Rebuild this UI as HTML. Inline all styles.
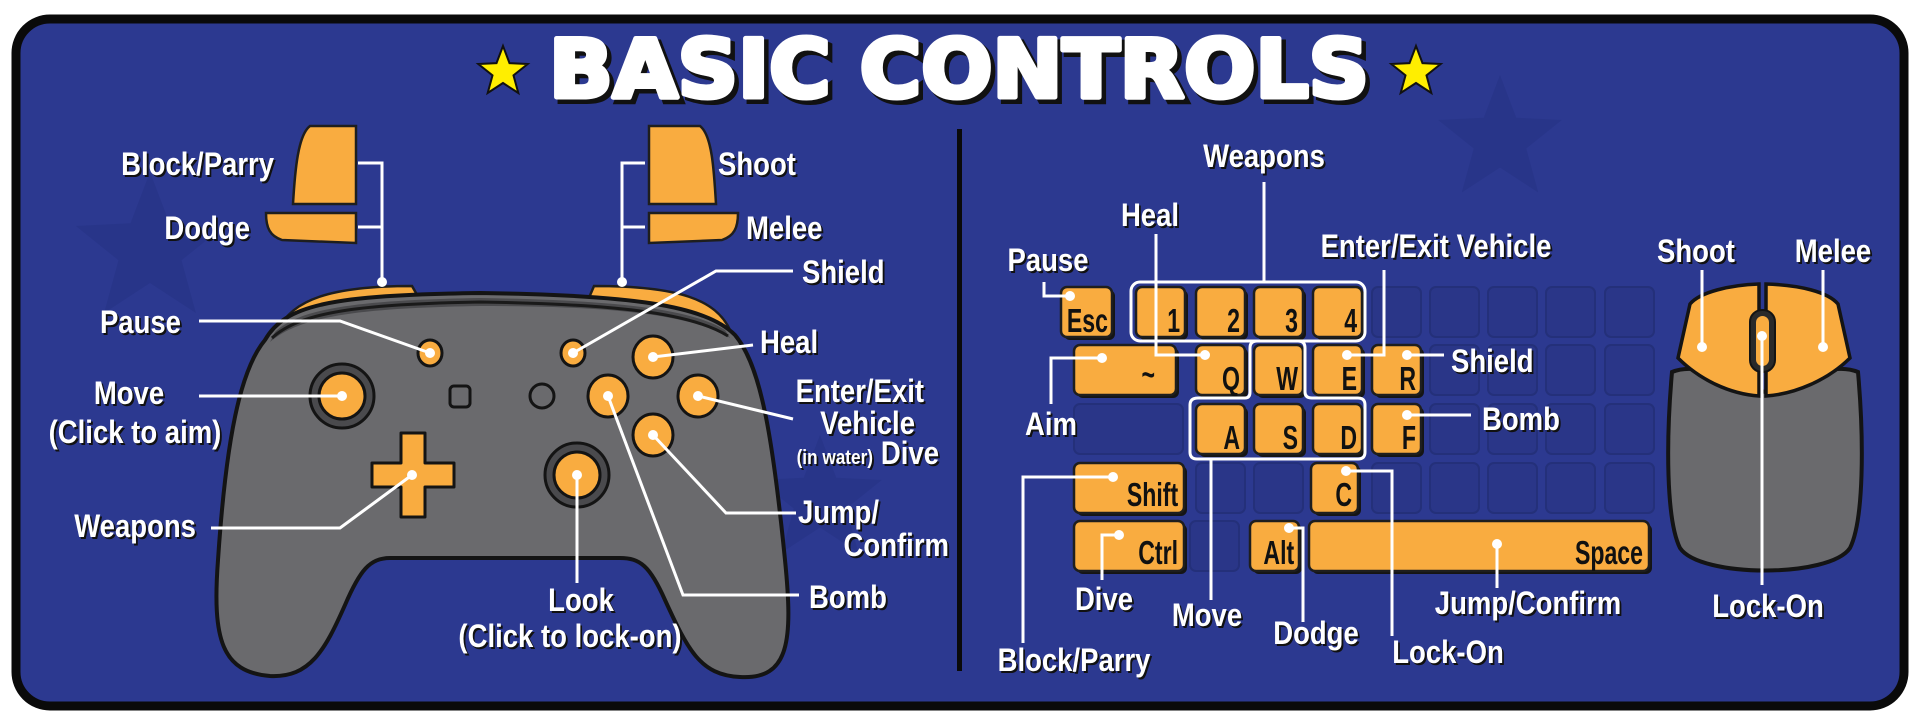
<!DOCTYPE html>
<html><head><meta charset="utf-8"><style>
html,body{margin:0;padding:0;background:#fff;}
svg{display:block;}
.l text{font-family:"Liberation Sans Narrow","Liberation Sans",sans-serif;font-weight:bold;font-size:32px;fill:#fff;text-shadow:2px 2px 0 #111;transform-box:fill-box;transform:scaleX(0.86);transform-origin:left center;}
.l text[text-anchor="end"]{transform-origin:right center;}
.l text[text-anchor="middle"]{transform-origin:center center;}
.l text.s{font-size:20px;}
.k text{font-family:"Liberation Sans Narrow","Liberation Sans",sans-serif;font-weight:bold;font-size:33px;fill:#111;text-anchor:end;transform-box:fill-box;transform:scaleX(0.7);transform-origin:right center;}
.ln{stroke:#fff;stroke-width:3;fill:none;}
.d{fill:#fff;}
.ok{fill:#f9ac40;stroke:#1e1e1e;stroke-width:2.5;}
.sh{fill:#151515;}
.ek{fill:#2a3688;stroke:#24307a;stroke-width:2;}
</style></head><body>
<svg width="1920" height="720" viewBox="0 0 1920 720" xmlns="http://www.w3.org/2000/svg">
<rect x="0" y="0" width="1920" height="720" fill="#fff"/>
<rect x="16" y="19" width="1888" height="687" rx="34" fill="#2c3990" stroke="#0a0a0a" stroke-width="9"/>
<g fill="#283588" opacity="0.8">
<path transform="translate(150,250) scale(3)" d="M0,-26 L6.5,-8.9 L24.7,-8 L10.5,3.4 L15.3,21 L0,11 L-15.3,21 L-10.5,3.4 L-24.7,-8 L-6.5,-8.9Z"/>
<path transform="translate(820,500) scale(2.5)" d="M0,-26 L6.5,-8.9 L24.7,-8 L10.5,3.4 L15.3,21 L0,11 L-15.3,21 L-10.5,3.4 L-24.7,-8 L-6.5,-8.9Z"/>
<path transform="translate(1500,140) scale(2.5)" d="M0,-26 L6.5,-8.9 L24.7,-8 L10.5,3.4 L15.3,21 L0,11 L-15.3,21 L-10.5,3.4 L-24.7,-8 L-6.5,-8.9Z"/>
</g>
<g fill="#ffee00" stroke="#111" stroke-width="2">
<path transform="translate(503,72)" d="M0,-26 L6.5,-8.9 L24.7,-8 L10.5,3.4 L15.3,21 L0,11 L-15.3,21 L-10.5,3.4 L-24.7,-8 L-6.5,-8.9Z"/>
<path transform="translate(1416,72)" d="M0,-26 L6.5,-8.9 L24.7,-8 L10.5,3.4 L15.3,21 L0,11 L-15.3,21 L-10.5,3.4 L-24.7,-8 L-6.5,-8.9Z"/>
</g>
<text x="553" y="101" textLength="820" lengthAdjust="spacingAndGlyphs" font-family="'DejaVu Sans','Liberation Sans',sans-serif" font-weight="bold" font-size="80" fill="#111" stroke="#111" stroke-width="6">BASIC CONTROLS</text>
<text x="549" y="97" textLength="820" lengthAdjust="spacingAndGlyphs" font-family="'DejaVu Sans','Liberation Sans',sans-serif" font-weight="bold" font-size="80" fill="#fff" stroke="#fff" stroke-width="5" stroke-linejoin="round">BASIC CONTROLS</text>
<rect x="957" y="129" width="5" height="542" fill="#0a0a0a"/>

<!-- CONTROLLER -->
<path d="M278,330 C292,300 330,286 412,286 L420,300 L286,336 Z" fill="#f9ac40" stroke="#1e1e1e" stroke-width="2.5"/>
<path d="M594,286 C680,286 716,300 730,330 L720,336 L588,300 Z" fill="#f9ac40" stroke="#1e1e1e" stroke-width="2.5"/>
<path d="M265,340 C285,305 330,295 480,293 C630,295 705,305 735,335 C760,365 772,430 785,560 C793,640 790,680 740,677 C700,675 688,650 665,600 C650,566 640,558 620,558 L390,558 C370,558 360,570 345,605 C325,650 310,678 270,676 C222,672 212,640 218,560 C226,440 240,370 265,340 Z" fill="#6a6a6d" stroke="#141414" stroke-width="4"/>
<path d="M275,332 C300,308 360,300 480,298 C610,300 690,308 725,330 L730,338 C690,314 610,306 480,306 C360,308 300,316 270,342 Z" fill="#4a4a4d"/>
<path d="M272,338 C300,312 360,304 480,302 C610,304 690,312 728,336" fill="none" stroke="#1a1a1a" stroke-width="3"/>
<path d="M310,126 L356,126 L356,204 L293,204 C295,170 298,135 310,126 Z" fill="#f9ac40" stroke="#1e1e1e" stroke-width="2.5"/>
<path d="M266,213 L356,213 L356,243 L282,240 C270,236 266,228 266,213 Z" fill="#f9ac40" stroke="#1e1e1e" stroke-width="2.5"/>
<path d="M649,126 L700,126 C712,135 714,170 716,204 L649,204 Z" fill="#f9ac40" stroke="#1e1e1e" stroke-width="2.5"/>
<path d="M649,213 L738,213 C738,228 734,236 722,240 L649,243 Z" fill="#f9ac40" stroke="#1e1e1e" stroke-width="2.5"/>
<circle cx="342" cy="396" r="32" fill="#4a4a4d" stroke="#141414" stroke-width="3"/>
<circle cx="342" cy="396" r="23" fill="#f9ac40" stroke="#141414" stroke-width="3"/>
<circle cx="577" cy="475" r="32" fill="#4a4a4d" stroke="#141414" stroke-width="3"/>
<circle cx="577" cy="475" r="23" fill="#f9ac40" stroke="#141414" stroke-width="3"/>
<path d="M401,433 L425,433 L425,463 L454,463 L454,487 L425,487 L425,517 L401,517 L401,487 L372,487 L372,463 L401,463 Z" fill="#f9ac40" stroke="#141414" stroke-width="3" stroke-linejoin="round"/>
<rect x="450" y="386" width="20" height="21" rx="4" fill="none" stroke="#141414" stroke-width="3"/>
<circle cx="542" cy="396" r="12" fill="none" stroke="#141414" stroke-width="3"/>
<ellipse cx="430" cy="353" rx="12" ry="13" fill="#f9ac40" stroke="#141414" stroke-width="3"/>
<ellipse cx="573" cy="353" rx="12" ry="13" fill="#f9ac40" stroke="#141414" stroke-width="3"/>
<ellipse cx="653" cy="357" rx="20" ry="21" fill="#f9ac40" stroke="#141414" stroke-width="3"/>
<ellipse cx="608" cy="396" rx="20" ry="21" fill="#f9ac40" stroke="#141414" stroke-width="3"/>
<ellipse cx="698" cy="396" rx="20" ry="21" fill="#f9ac40" stroke="#141414" stroke-width="3"/>
<ellipse cx="653" cy="435" rx="20" ry="21" fill="#f9ac40" stroke="#141414" stroke-width="3"/>
<g class="ln">
<polyline points="358,163 382,163 382,282"/><polyline points="358,227 382,227"/>
<polyline points="645,163 622,163 622,282"/><polyline points="645,227 622,227"/>
<polyline points="199,321 340,321 430,353"/>
<polyline points="199,396 342,396"/>
<polyline points="211,528 340,528 412,475"/>
<polyline points="793,271 716,271 573,353"/>
<polyline points="753,345 653,357"/>
<polyline points="793,419 698,396"/>
<polyline points="796,513 726,513 653,435"/>
<polyline points="799,595 683,595 608,396"/>
<polyline points="577,475 577,583"/>
</g>
<g class="d">
<circle cx="382" cy="282" r="5"/><circle cx="622" cy="282" r="5"/>
<circle cx="430" cy="353" r="5"/><circle cx="573" cy="353" r="5"/>
<circle cx="342" cy="396" r="5"/><circle cx="412" cy="475" r="5"/>
<circle cx="653" cy="357" r="5"/><circle cx="698" cy="396" r="5"/>
<circle cx="653" cy="435" r="5"/><circle cx="608" cy="396" r="5"/>
<circle cx="577" cy="475" r="5"/>
</g>
<g class="l">
<text x="274" y="175" text-anchor="end">Block/Parry</text>
<text x="250" y="239" text-anchor="end">Dodge</text>
<text x="718" y="175">Shoot</text>
<text x="746" y="239">Melee</text>
<text x="802" y="283">Shield</text>
<text x="181" y="333" text-anchor="end">Pause</text>
<text x="760" y="353">Heal</text>
<text x="129" y="404" text-anchor="middle">Move</text>
<text x="135" y="443" text-anchor="middle">(Click to aim)</text>
<text x="924" y="402" text-anchor="end">Enter/Exit</text>
<text x="915" y="434" text-anchor="end">Vehicle</text>
<text x="939" y="464" text-anchor="end">Dive</text>
<text x="873" y="464" text-anchor="end" class="s">(in water)</text>
<text x="196" y="537" text-anchor="end">Weapons</text>
<text x="798" y="523">Jump/</text>
<text x="949" y="556" text-anchor="end">Confirm</text>
<text x="581" y="611" text-anchor="middle">Look</text>
<text x="570" y="647" text-anchor="middle">(Click to lock-on)</text>
<text x="809" y="608">Bomb</text>
</g>

<!-- KEYBOARD -->
<g class="ek">
<rect x="1372" y="287" width="49" height="50" rx="6"/><rect x="1430" y="287" width="49" height="50" rx="6"/><rect x="1488" y="287" width="49" height="50" rx="6"/><rect x="1546" y="287" width="49" height="50" rx="6"/><rect x="1605" y="287" width="49" height="50" rx="6"/>
<rect x="1430" y="345" width="49" height="50" rx="6"/><rect x="1488" y="345" width="49" height="50" rx="6"/><rect x="1546" y="345" width="49" height="50" rx="6"/><rect x="1605" y="345" width="49" height="50" rx="6"/>
<rect x="1074" y="404" width="109" height="50" rx="6"/>
<rect x="1430" y="404" width="49" height="50" rx="6"/><rect x="1488" y="404" width="49" height="50" rx="6"/><rect x="1546" y="404" width="49" height="50" rx="6"/><rect x="1605" y="404" width="49" height="50" rx="6"/>
<rect x="1196" y="463" width="49" height="50" rx="6"/><rect x="1254" y="463" width="49" height="50" rx="6"/>
<rect x="1372" y="463" width="49" height="50" rx="6"/><rect x="1430" y="463" width="49" height="50" rx="6"/><rect x="1488" y="463" width="49" height="50" rx="6"/><rect x="1546" y="463" width="49" height="50" rx="6"/><rect x="1605" y="463" width="49" height="50" rx="6"/>
<rect x="1190" y="521" width="49" height="50" rx="6"/>
</g>
<g class="sh">
<rect x="1064" y="290" width="51" height="50" rx="6"/>
<rect x="1139" y="290" width="49" height="50" rx="6"/><rect x="1199" y="290" width="49" height="50" rx="6"/><rect x="1257" y="290" width="49" height="50" rx="6"/><rect x="1316" y="290" width="49" height="50" rx="6"/>
<rect x="1077" y="348" width="102" height="50" rx="6"/><rect x="1199" y="348" width="49" height="50" rx="6"/><rect x="1257" y="348" width="49" height="50" rx="6"/><rect x="1316" y="348" width="49" height="50" rx="6"/><rect x="1375" y="348" width="49" height="50" rx="6"/>
<rect x="1199" y="407" width="49" height="50" rx="6"/><rect x="1257" y="407" width="49" height="50" rx="6"/><rect x="1316" y="407" width="49" height="50" rx="6"/><rect x="1375" y="407" width="49" height="50" rx="6"/>
<rect x="1077" y="466" width="110" height="50" rx="6"/><rect x="1314" y="466" width="47" height="50" rx="6"/>
<rect x="1077" y="524" width="110" height="50" rx="6"/><rect x="1253" y="524" width="49" height="50" rx="6"/><rect x="1312" y="524" width="340" height="50" rx="6"/>
</g>
<g class="ok">
<rect x="1061" y="287" width="51" height="50" rx="6"/>
<rect x="1136" y="287" width="49" height="50" rx="6"/><rect x="1196" y="287" width="49" height="50" rx="6"/><rect x="1254" y="287" width="49" height="50" rx="6"/><rect x="1313" y="287" width="49" height="50" rx="6"/>
<rect x="1074" y="345" width="102" height="50" rx="6"/><rect x="1196" y="345" width="49" height="50" rx="6"/><rect x="1254" y="345" width="49" height="50" rx="6"/><rect x="1313" y="345" width="49" height="50" rx="6"/><rect x="1372" y="345" width="49" height="50" rx="6"/>
<rect x="1196" y="404" width="49" height="50" rx="6"/><rect x="1254" y="404" width="49" height="50" rx="6"/><rect x="1313" y="404" width="49" height="50" rx="6"/><rect x="1372" y="404" width="49" height="50" rx="6"/>
<rect x="1074" y="463" width="110" height="50" rx="6"/><rect x="1311" y="463" width="47" height="50" rx="6"/>
<rect x="1074" y="521" width="110" height="50" rx="6"/><rect x="1250" y="521" width="49" height="50" rx="6"/><rect x="1309" y="521" width="340" height="50" rx="6"/>
</g>
<g class="k">
<text x="1108" y="332">Esc</text>
<text x="1180" y="332">1</text><text x="1240" y="332">2</text><text x="1298" y="332">3</text><text x="1357" y="332">4</text>
<text x="1155" y="386">~</text><text x="1240" y="390">Q</text><text x="1298" y="390">W</text><text x="1357" y="390">E</text><text x="1416" y="390">R</text>
<text x="1240" y="449">A</text><text x="1298" y="449">S</text><text x="1357" y="449">D</text><text x="1416" y="449">F</text>
<text x="1178" y="506">Shift</text><text x="1352" y="506">C</text>
<text x="1178" y="564">Ctrl</text><text x="1294" y="564">Alt</text><text x="1643" y="564">Space</text>
</g>
<rect x="1131" y="282" width="234" height="59" rx="9" fill="none" stroke="#fff" stroke-width="3"/>
<path d="M1198,398 L1245,398 Q1250,398 1250,392 L1250,348 Q1250,341 1257,341 L1298,341 Q1305,341 1305,348 L1305,392 Q1305,398 1312,398 L1358,398 Q1365,398 1365,405 L1365,452 Q1365,459 1358,459 L1197,459 Q1190,459 1190,452 L1190,405 Q1190,398 1198,398 Z" fill="none" stroke="#fff" stroke-width="3"/>
<g class="ln">
<polyline points="1264,182 1264,282"/>
<polyline points="1156,234 1156,355 1205,355"/>
<polyline points="1044,282 1044,296 1070,296"/>
<polyline points="1384,270 1384,355 1347,355"/>
<polyline points="1407,355 1444,355"/>
<polyline points="1051,404 1051,358 1102,358"/>
<polyline points="1407,415 1471,415"/>
<polyline points="1102,580 1102,535 1119,535"/>
<polyline points="1211,459 1211,600"/>
<polyline points="1023,643 1023,477 1113,477"/>
<polyline points="1303,622 1303,528 1289,528"/>
<polyline points="1392,636 1392,471 1346,471"/>
<polyline points="1497,588 1497,544"/>
</g>
<g class="d">
<circle cx="1205" cy="355" r="5"/><circle cx="1070" cy="296" r="5"/><circle cx="1347" cy="355" r="5"/><circle cx="1407" cy="355" r="5"/>
<circle cx="1102" cy="358" r="5"/><circle cx="1407" cy="415" r="5"/><circle cx="1119" cy="535" r="5"/><circle cx="1113" cy="477" r="5"/>
<circle cx="1289" cy="528" r="5"/><circle cx="1346" cy="471" r="5"/><circle cx="1497" cy="544" r="5"/>
</g>
<g class="l">
<text x="1264" y="167" text-anchor="middle">Weapons</text>
<text x="1150" y="226" text-anchor="middle">Heal</text>
<text x="1048" y="271" text-anchor="middle">Pause</text>
<text x="1436" y="257" text-anchor="middle">Enter/Exit Vehicle</text>
<text x="1451" y="372">Shield</text>
<text x="1051" y="435" text-anchor="middle">Aim</text>
<text x="1482" y="430">Bomb</text>
<text x="1104" y="610" text-anchor="middle">Dive</text>
<text x="1207" y="626" text-anchor="middle">Move</text>
<text x="1074" y="671" text-anchor="middle">Block/Parry</text>
<text x="1316" y="644" text-anchor="middle">Dodge</text>
<text x="1448" y="663" text-anchor="middle">Lock-On</text>
<text x="1528" y="614" text-anchor="middle">Jump/Confirm</text>
</g>

<!-- MOUSE -->
<path d="M1672,372 C1700,360 1740,385 1765,392 C1790,385 1830,360 1858,372 C1864,440 1864,520 1850,548 C1830,578 1700,578 1680,548 C1666,520 1666,440 1672,372 Z" fill="#6a6a6d" stroke="#141414" stroke-width="4"/>
<path d="M1759,284 L1759,396 C1730,394 1700,380 1678,358 L1690,304 C1700,292 1730,285 1759,284 Z" fill="#f9ac40" stroke="#141414" stroke-width="3.5"/>
<path d="M1766,284 L1766,396 C1795,394 1828,380 1850,358 L1838,304 C1828,292 1800,285 1766,284 Z" fill="#f9ac40" stroke="#141414" stroke-width="3.5"/>
<rect x="1750" y="310" width="25" height="62" rx="12" fill="#2a2a2a" stroke="#141414" stroke-width="2"/>
<rect x="1756" y="316" width="13" height="50" rx="6.5" fill="#f9ac40"/>
<g class="ln">
<polyline points="1702,270 1702,347"/>
<polyline points="1823,270 1823,347"/>
<polyline points="1762,336 1762,585"/>
</g>
<g class="d"><circle cx="1702" cy="347" r="5"/><circle cx="1823" cy="347" r="5"/><circle cx="1762" cy="336" r="5"/></g>
<g class="l">
<text x="1696" y="262" text-anchor="middle">Shoot</text>
<text x="1833" y="262" text-anchor="middle">Melee</text>
<text x="1768" y="617" text-anchor="middle">Lock-On</text>
</g>
</svg>
</body></html>
